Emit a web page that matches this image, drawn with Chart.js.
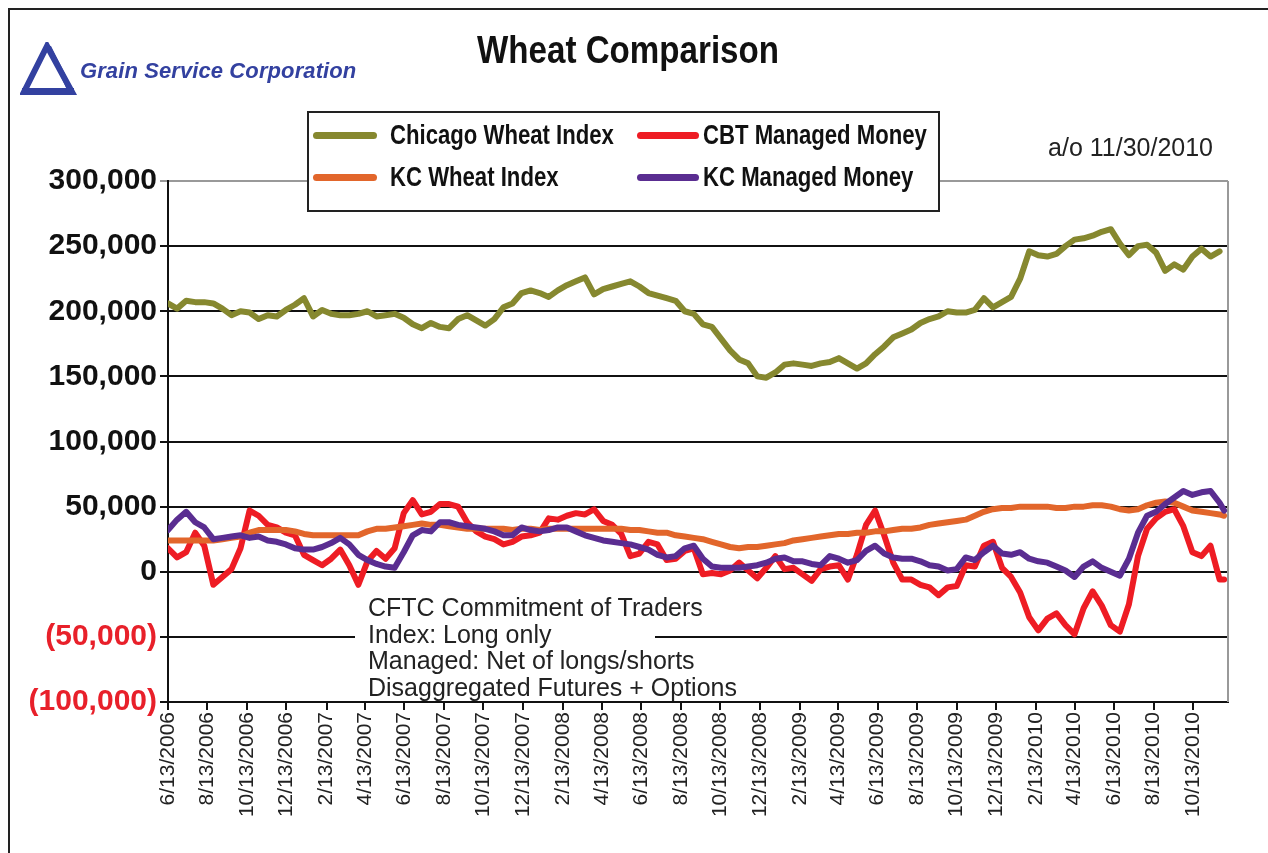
<!DOCTYPE html>
<html>
<head>
<meta charset="utf-8">
<script src="https://cdn.jsdelivr.net/npm/chart.js@4.4.1/dist/chart.umd.min.js"></script>
<style>
  body { margin: 0; background: #fff; }
  #wrap { position: relative; width: 1268px; height: 853px; overflow: hidden; background: #fff; }
  #frame { position: absolute; left: 8px; top: 8px; width: 1300px; height: 900px; border-left: 2px solid #222; border-top: 2px solid #222; }
  canvas { position: absolute; left: 0; top: 0; }
  .abs { position: absolute; white-space: nowrap; }
  #title { left: 0; width: 1256px; top: 30px; text-align: center; font: bold 39px "Liberation Sans", sans-serif; line-height: 40px; color: #111; transform: scaleX(0.85); transform-origin: 628px 0; }
  #logoText { left: 80px; top: 58px; font: italic bold 22px "Liberation Sans", sans-serif; color: #3341a0; line-height: 26px; letter-spacing: 0.1px; }
  #legend { left: 307px; top: 111px; width: 629px; height: 97px; border: 2px solid #222; background: #fff; }
  .swatch { position: absolute; height: 7px; border-radius: 4px; }
  .lgText { font: bold 27px "Liberation Sans", sans-serif; color: #111; line-height: 30px; transform: scaleX(0.82); transform-origin: 0 0; }
  #asof { right: 55px; top: 133px; font: 25px "Liberation Sans", sans-serif; color: #222; line-height: 28px; }
  #note { left: 355px; top: 594px; width: 300px; height: 104px; background: #fff; padding-left: 13px; box-sizing: border-box; font: 25px "Liberation Sans", sans-serif; line-height: 26.7px; color: #222; white-space: nowrap; }
</style>
</head>
<body>
<div id="wrap">
  <canvas id="chart" width="1268" height="853"></canvas>
  <div id="frame"></div>
  <svg class="abs" style="left:20px;top:42px" width="58" height="54" viewBox="0 0 58 54">
    <polygon points="27,4 4,50 52,50" fill="none" stroke="#3341a0" stroke-width="6" stroke-linejoin="miter"/>
    <polygon points="27,4 31,4 54,50 48,50" fill="#3341a0"/>
    <rect x="2" y="46" width="52" height="6" fill="#3341a0"/>
  </svg>
  <div id="logoText" class="abs">Grain Service Corporation</div>
  <div id="title" class="abs">Wheat Comparison</div>
  <div id="legend" class="abs"></div>
  <div class="swatch abs" style="left:313px;top:132px;width:64px;background:#86882f"></div>
  <div class="lgText abs" style="left:390px;top:120px">Chicago Wheat Index</div>
  <div class="swatch abs" style="left:637px;top:132px;width:62px;background:#ee1c24"></div>
  <div class="lgText abs" style="left:703px;top:120px">CBT Managed Money</div>
  <div class="swatch abs" style="left:313px;top:174px;width:64px;background:#e2662b"></div>
  <div class="lgText abs" style="left:390px;top:162px">KC Wheat Index</div>
  <div class="swatch abs" style="left:637px;top:174px;width:62px;background:#5a2d91"></div>
  <div class="lgText abs" style="left:703px;top:162px">KC Managed Money</div>
  <div id="asof" class="abs">a/o 11/30/2010</div>
  <div id="note" class="abs">CFTC Commitment of Traders<br>Index: Long only<br>Managed: Net of longs/shorts<br>Disaggregated Futures + Options</div>
</div>
<script>
// x axis labels (every two months)
const tickLabels = ['6/13/2006', '8/13/2006', '10/13/2006', '12/13/2006', '2/13/2007', '4/13/2007',
  '6/13/2007', '8/13/2007', '10/13/2007', '12/13/2007', '2/13/2008', '4/13/2008', '6/13/2008',
  '8/13/2008', '10/13/2008', '12/13/2008', '2/13/2009', '4/13/2009', '6/13/2009', '8/13/2009',
  '10/13/2009', '12/13/2009', '2/13/2010', '4/13/2010', '6/13/2010', '8/13/2010', '10/13/2010'];

// readings every two weeks from 6/13/2006 to 11/30/2010, in thousands of contracts
const startDate = '6/13/2006';
const endDate = '11/30/2010';
const stepDays = 14;

const chicagoWheatIndex = [
  206, 202, 208, 207, 207, 206, 202, 197, 200, 199,
  194, 197, 196, 201, 205, 210, 196, 201, 198, 197,
  197, 198, 200, 196, 197, 198, 195, 190, 187, 191,
  188, 187, 194, 197, 193, 189, 194, 203, 206, 214,
  216, 214, 211, 216, 220, 223, 226, 213, 217, 219,
  221, 223, 219, 214, 212, 210, 208, 200, 198, 190,
  188, 179, 170, 163, 160, 150, 149, 153, 159, 160,
  159, 158, 160, 161, 164, 160, 156, 160, 167, 173,
  180, 183, 186, 191, 194, 196, 200, 199, 199, 201,
  210, 203, 207, 211, 225, 246, 243, 242, 244, 250,
  255, 256, 258, 261, 263, 252, 243, 250, 251, 245,
  231, 236, 232, 242, 248, 242, 246, null
];

const cbtManagedMoney = [
  18, 11, 15, 30, 20, -10, -4, 2, 18, 47,
  43, 36, 34, 30, 28, 13, 9, 5, 10, 17,
  5, -10, 8, 16, 10, 18, 45, 55, 44, 46,
  52, 52, 50, 38, 31, 27, 25, 21, 23, 27,
  28, 30, 41, 40, 43, 45, 44, 48, 39, 36,
  29, 12, 14, 23, 21, 9, 10, 16, 18, -2,
  -1, -2, 1, 7, 1, -5, 3, 12, 2, 3,
  -2, -7, 2, 4, 5, -6, 13, 36, 47, 28,
  7, -6, -6, -10, -12, -18, -12, -11, 5, 4,
  20, 23, 3, -4, -16, -35, -45, -36, -32, -41,
  -48, -28, -15, -26, -41, -46, -25, 12, 33, 41,
  46, 48, 35, 15, 12, 20, -6, -6
];

const kcWheatIndex = [
  24, 24, 24, 24, 24, 24, 25, 26, 27, 30,
  32, 32, 32, 32, 31, 29, 28, 28, 28, 28,
  28, 28, 31, 33, 33, 34, 35, 36, 37, 36,
  36, 35, 34, 33, 33, 33, 33, 33, 32, 33,
  33, 32, 33, 33, 33, 33, 33, 33, 33, 33,
  33, 32, 32, 31, 30, 30, 28, 27, 26, 25,
  23, 21, 19, 18, 19, 19, 20, 21, 22, 24,
  25, 26, 27, 28, 29, 29, 30, 30, 31, 31,
  32, 33, 33, 34, 36, 37, 38, 39, 40, 43,
  46, 48, 49, 49, 50, 50, 50, 50, 49, 49,
  50, 50, 51, 51, 50, 48, 47, 48, 51, 53,
  54, 53, 50, 47, 46, 45, 44, 43
];

const kcManagedMoney = [
  32, 40, 46, 38, 34, 25, 26, 27, 28, 26,
  27, 24, 23, 21, 18, 17, 17, 19, 22, 26,
  21, 13, 9, 6, 4, 3, 15, 28, 32, 31,
  38, 38, 36, 35, 34, 33, 31, 28, 28, 34,
  32, 31, 32, 34, 34, 31, 28, 26, 24, 23,
  22, 21, 19, 17, 13, 11, 12, 18, 20, 10,
  4, 3, 3, 3, 4, 5, 7, 10, 11, 8,
  8, 6, 5, 12, 10, 7, 9, 16, 20, 14,
  11, 10, 10, 8, 5, 4, 1, 2, 11, 9,
  15, 20, 14, 13, 15, 10, 8, 7, 4, 1,
  -4, 4, 8, 3, 0, -3, 10, 30, 43, 46,
  52, 57, 62, 59, 61, 62, 53, 47
];

function dayOf(s) {
  const p = s.split('/').map(Number);
  const s0 = startDate.split('/').map(Number);
  return (Date.UTC(p[2], p[0] - 1, p[1]) - Date.UTC(s0[2], s0[0] - 1, s0[1])) / 86400000;
}

const lastDay = dayOf(endDate);
const tickDays = tickLabels.map(dayOf);

function toPoints(values) {
  return values.map(function (v, i) {
    return { x: Math.min(i * stepDays, lastDay), y: v === null ? null : v * 1000 };
  });
}

function series(label, values, color, order) {
  return {
    label: label,
    data: toPoints(values),
    borderColor: color,
    backgroundColor: color,
    borderWidth: 6,
    pointRadius: 0,
    tension: 0,
    borderJoinStyle: 'round',
    borderCapStyle: 'round',
    order: order
  };
}

const plotFrame = {
  id: 'plotFrame',
  beforeDatasetsDraw(chart) {
    const a = chart.chartArea, c = chart.ctx;
    c.save();
    c.strokeStyle = '#999';
    c.lineWidth = 2;
    c.beginPath();
    c.moveTo(a.right, a.top);
    c.lineTo(a.right, a.bottom);
    c.stroke();
    c.restore();
  }
};

new Chart(document.getElementById('chart').getContext('2d'), {
  type: 'line',
  data: {
    datasets: [
      series('Chicago Wheat Index', chicagoWheatIndex, '#86882f', 4),
      series('CBT Managed Money', cbtManagedMoney, '#ee1c24', 3),
      series('KC Wheat Index', kcWheatIndex, '#e2662b', 2),
      series('KC Managed Money', kcManagedMoney, '#5a2d91', 1)
    ]
  },
  options: {
    responsive: false,
    animation: false,
    devicePixelRatio: 1,
    layout: { padding: { left: 0, top: 181, right: 40, bottom: 0 } },
    plugins: {
      legend: { display: false },
      tooltip: { enabled: false }
    },
    scales: {
      x: {
        type: 'linear',
        min: 0,
        max: lastDay + 6,
        afterBuildTicks: function (s) { s.ticks = tickDays.map(function (d) { return { value: d }; }); },
        afterFit: function (s) { s.height = 151; },
        border: { color: '#111', width: 2 },
        grid: { drawOnChartArea: false, drawTicks: true, tickLength: 8, color: '#111', lineWidth: 2 },
        ticks: {
          autoSkip: false,
          minRotation: 90,
          maxRotation: 90,
          padding: 2,
          color: '#222',
          font: { family: 'Liberation Sans', size: 21 },
          callback: function (v, i) { return tickLabels[i]; }
        }
      },
      y: {
        min: -100000,
        max: 300000,
        afterFit: function (s) { s.width = 168; },
        border: { color: '#111', width: 2 },
        grid: {
          color: function (ctx) { return ctx.tick && ctx.tick.value === 300000 ? '#999' : '#111'; },
          lineWidth: 2,
          tickLength: 8
        },
        ticks: {
          stepSize: 50000,
          padding: 3,
          color: function (ctx) { return ctx.tick.value < 0 ? '#e8202a' : '#111'; },
          font: { family: 'Liberation Sans', size: 30, weight: 'bold' },
          callback: function (v) {
            const t = Math.abs(v).toLocaleString('en-US');
            return v < 0 ? '(' + t + ')' : t;
          }
        }
      }
    }
  },
  plugins: [plotFrame]
});
</script>
</body>
</html>
